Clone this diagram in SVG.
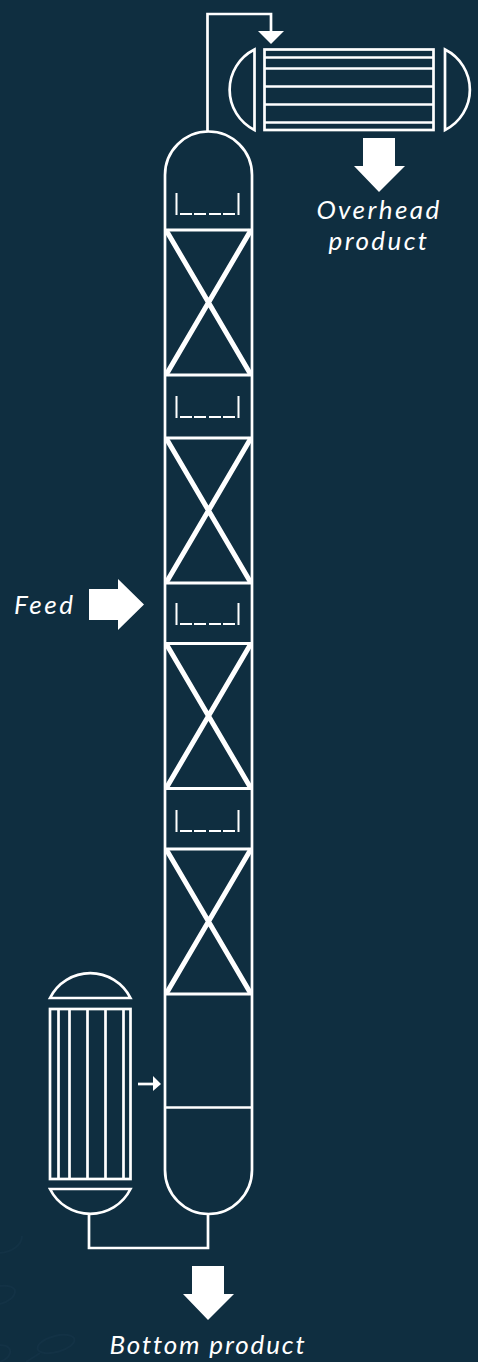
<svg xmlns="http://www.w3.org/2000/svg" width="478" height="1362" viewBox="0 0 478 1362">
<style>
.l{fill:none;stroke:#fff;stroke-width:2.700}
.t{fill:none;stroke:#fff;stroke-width:2}
.x{fill:none;stroke:#fff;stroke-width:5}
.h{fill:none;stroke:#fff;stroke-width:3}
.f{fill:#fff;stroke:none}
.b{fill:none;stroke:#133245;stroke-width:2}
text{fill:#fff;font-family:"Lato","Open Sans",sans-serif;font-style:italic;font-weight:400;font-size:26px;letter-spacing:2.400px}
</style>
<defs>
<g id="tray"><path class="t" d="M176.500 0V22M238.500 0V22"/><path class="t" d="M180 21H192M194 21H206M209 21H221M223 21H235"/></g>
<g id="pack"><path class="h" d="M165 0H252M165 145H252"/><path class="x" d="M166 0L251 145M251 0L166 145"/></g>
</defs>
<rect width="478" height="1362" fill="#0f2e40"/>
<g id="background">
<ellipse class="b" cx="56" cy="1344" rx="19" ry="8" transform="rotate(-15 56 1344)"/>
<path class="b" d="M40 1353L26 1362"/>
<path class="b" d="M0 1253C12 1252 22 1245 22 1236M0 1304C8 1302 15 1297 15 1291C15 1287 8 1285 0 1286M0 1345C8 1345 11 1349 10 1353C9 1357 5 1360 0 1362"/>
</g>
<g id="connectors">
<path class="l" d="M207.500 131V14H271V32"/>
<path class="f" d="M258 31H284L271 44Z"/>
<path class="l" d="M89 1214V1248H208V1214"/>
<path class="l" d="M138 1084H154"/>
<path class="f" d="M153 1076L161 1084L153 1091Z"/>
</g>
<g id="column">
<path class="l" d="M165 1170V175A43.500 43.500 0 0 1 252 175V1170A43.500 44 0 0 1 165 1170Z"/>
<use href="#pack" y="230"/><use href="#pack" y="438"/><use href="#pack" y="643.500"/><use href="#pack" y="849"/>
<use href="#tray" y="193"/><use href="#tray" y="396"/><use href="#tray" y="603"/><use href="#tray" y="810"/>
<path class="l" d="M165 1107.500H252"/>
</g>
<g id="condenser">
<rect class="l" x="264.500" y="49.500" width="169" height="80.500"/>
<path class="l" d="M264 57.500H434M264 68.500H434M264 86.500H434M264 104.500H434M264 122.500H434"/>
<path class="l" d="M254.500 49.500V130A45 45 0 0 1 254.500 49.500Z"/>
<path class="l" d="M445 49.500V130A45 45 0 0 0 445 49.500Z"/>
</g>
<g id="reboiler">
<rect class="l" x="50" y="1009" width="80.500" height="170"/>
<path class="l" d="M58.500 1009V1179M69.500 1009V1179M87.500 1009V1179M105.500 1009V1179M123.500 1009V1179"/>
<path class="l" d="M50 998H130.500A45 45 0 0 0 50 998Z"/>
<path class="l" d="M50 1189H130.500A45 45 0 0 1 50 1189Z"/>
</g>
<g id="overhead-product">
<path class="f" d="M363 138H395V166H405L379 192L354 166H363Z"/>
<text x="379" y="219" text-anchor="middle">Overhead</text>
<text x="379" y="250" text-anchor="middle">product</text>
</g>
<g id="feed">
<path class="f" d="M89 589H118V579L144 604.500L118 630V620H89Z"/>
<text x="14" y="614" style="letter-spacing:2.600px">Feed</text>
</g>
<g id="bottom-product">
<path class="f" d="M192 1266H224V1294H234L208 1320L183 1294H192Z"/>
<text x="208" y="1354" text-anchor="middle" style="letter-spacing:1.850px">Bottom product</text>
</g>
</svg>
